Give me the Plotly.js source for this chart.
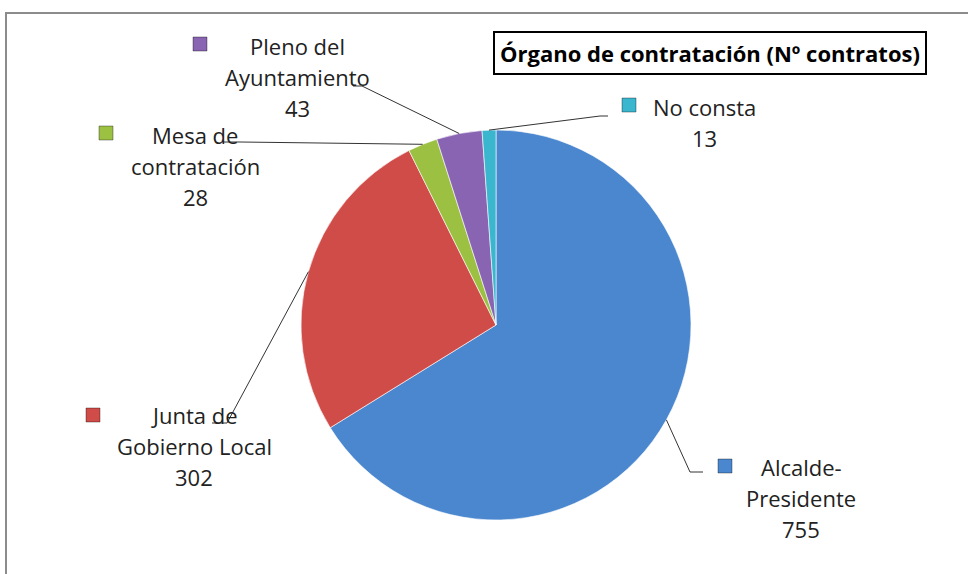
<!DOCTYPE html>
<html>
<head>
<meta charset="utf-8">
<script src="https://cdn.plot.ly/plotly-3.0.1.min.js"></script>
<style>
  html, body { margin: 0; padding: 0; background: #fff; }
  #chart { width: 968px; height: 574px; }
</style>
</head>
<body>
<div id="chart"></div>
<script>
// data
const labels = ['Alcalde-Presidente', 'Junta de Gobierno Local', 'Mesa de contratación', 'Pleno del Ayuntamiento', 'No consta'];
const labelLines = [['Alcalde-', 'Presidente'], ['Junta de', 'Gobierno Local'], ['Mesa de', 'contratación'], ['Pleno del', 'Ayuntamiento'], ['No consta']];
const values = [755, 302, 28, 43, 13];
const colors = ['#4a87cf', '#cf4c48', '#9cc142', '#8864b2', '#3bb6cf'];
const chartTitle = 'Órgano de contratación (Nº contratos)';

// pie geometry in pixels
const W = 968, H = 574;
const cx = 496, cy = 325, R = 195;
const px = x => x / W;
const py = y => 1 - y / H;

// where each label sits: text centre, key square, leader elbow and end
const labelPlaces = [
  {tx: 801, ty: 467, kx: 725, ky: 466, elbow: [690, 472], end: [703, 472]},
  {tx: 194, ty: 415, kx: 93,  ky: 415, elbow: [227, 423], end: [212, 423]},
  {tx: 195, ty: 135, kx: 106, ky: 133, elbow: [240, 142], end: [223, 142]},
  {tx: 297, ty: 46,  kx: 200, ky: 44,  elbow: [362, 86],  end: [353, 86]},
  {tx: 704, ty: 107, kx: 629, ky: 105, elbow: [600, 116], end: [608, 116]}
];
const lineStep = 31;
const labelFont = {family: 'Open Sans, Noto Sans, sans-serif', size: 22, color: '#222'};

const total = values.reduce((a, b) => a + b, 0);
let annotations = [];
let shapes = [];

// chart frame
shapes.push({type: 'rect', xref: 'paper', yref: 'paper',
  x0: px(6), x1: 1.05, y0: -0.05, y1: py(13),
  line: {color: '#8c8c8c', width: 2}});

let cum = 0;
for (let i = 0; i < values.length; i++) {
  const mid = (cum + values[i] / 2) / total * 2 * Math.PI;
  cum += values[i];
  const ex = cx + R * Math.sin(mid);
  const ey = cy - R * Math.cos(mid);
  const p = labelPlaces[i];

  // leader line
  shapes.push({type: 'path', xref: 'paper', yref: 'paper',
    path: 'M ' + px(ex) + ',' + py(ey) + ' L ' + px(p.elbow[0]) + ',' + py(p.elbow[1]) +
          ' L ' + px(p.end[0]) + ',' + py(p.end[1]),
    line: {color: '#333', width: 1}});

  // legend key
  shapes.push({type: 'rect', xref: 'paper', yref: 'paper',
    x0: px(p.kx - 7), x1: px(p.kx + 7), y0: py(p.ky + 7), y1: py(p.ky - 7),
    fillcolor: colors[i], line: {color: 'rgba(0,0,0,0.35)', width: 1}});

  const lines = labelLines[i].concat([String(values[i])]);
  lines.forEach((t, j) => {
    annotations.push({xref: 'paper', yref: 'paper', x: px(p.tx), y: py(p.ty + j * lineStep),
      text: t, showarrow: false, font: labelFont, xanchor: 'center', yanchor: 'middle'});
  });
}

// title in a box
annotations.push({xref: 'paper', yref: 'paper', x: px(710), y: py(53), text: '<b>' + chartTitle + '</b>',
  showarrow: false, xanchor: 'center', yanchor: 'middle',
  font: {family: 'Open Sans, Noto Sans, sans-serif', size: 22, color: '#000'},
  bordercolor: '#000', borderwidth: 2, borderpad: 5, bgcolor: '#fff'});

const trace = {
  type: 'pie',
  labels: labels,
  values: values,
  sort: false,
  direction: 'clockwise',
  rotation: 0,
  textinfo: 'none',
  hoverinfo: 'label+value',
  marker: {colors: colors, line: {color: 'rgba(255,255,255,0.6)', width: 1}},
  domain: {x: [px(cx - R), px(cx + R)], y: [py(cy + R), py(cy - R)]}
};

const layout = {
  width: W, height: H,
  margin: {l: 0, r: 0, t: 0, b: 0},
  showlegend: false,
  paper_bgcolor: '#fff',
  shapes: shapes,
  annotations: annotations
};

Plotly.newPlot('chart', [trace], layout, {displayModeBar: false});
</script>
</body>
</html>
